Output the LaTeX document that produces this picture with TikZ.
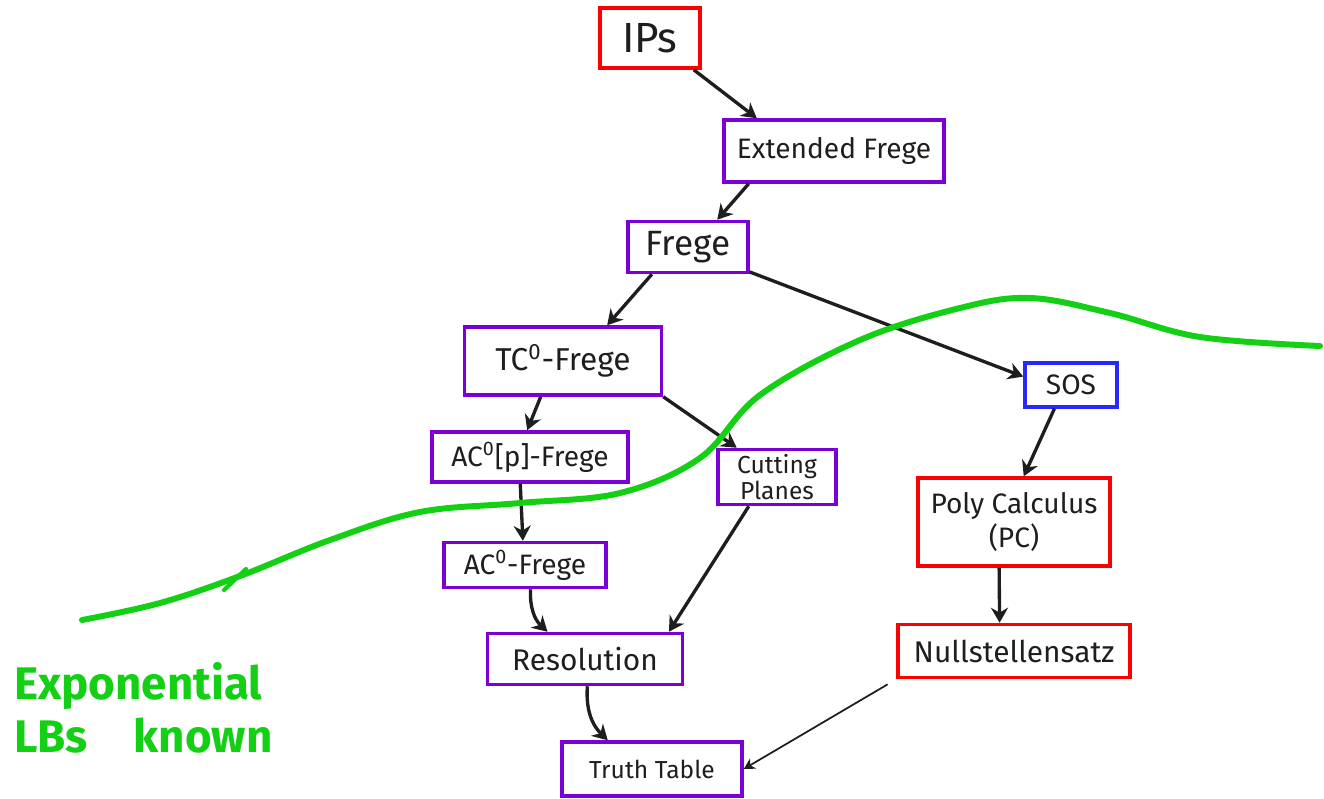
\documentclass[tikz,border=0pt]{standalone}
\usepackage{fontspec}
\setmainfont{Fira Sans}
\usetikzlibrary{arrows.meta, positioning}

\definecolor{boxred}{RGB}{250,0,0}
\definecolor{boxpurple}{RGB}{122,0,214}
\definecolor{boxblue}{RGB}{40,40,250}
\definecolor{lbgreen}{RGB}{20,208,20}
\definecolor{inkblack}{RGB}{30,30,30}

\begin{document}
\begin{tikzpicture}[x=0.02cm, y=-0.02cm,
  every node/.style={font=\fontsize{16}{19}\selectfont, text=inkblack},
  sysbox/.style={draw, line width=2pt, fill=white, inner sep=2pt, align=center},
  redbox/.style={sysbox, draw=boxred},
  purplebox/.style={sysbox, draw=boxpurple},
  bluebox/.style={sysbox, draw=boxblue},
  arrow/.style={-{Stealth[width=3.4mm,length=3mm]}, line width=1.9pt, draw=inkblack},
  thinarrow/.style={-{Stealth[width=2.4mm,length=2.2mm]}, line width=1pt, draw=inkblack},
  frontier/.style={draw=lbgreen, line width=3.4pt, line cap=round, line join=round}
]
\useasboundingbox (0,0) rectangle (1324,798);

% Proof systems, strongest at the top
\node[redbox, minimum width=2cm, minimum height=1.2cm, font=\fontsize{24}{28}\selectfont] (ips) at (650,38) {IPs};
\node[purplebox, minimum width=4.4cm, minimum height=1.24cm] (extfrege) at (834,151) {Extended Frege};
\node[purplebox, minimum width=2.4cm, minimum height=1.02cm, font=\fontsize{20}{24}\selectfont] (frege) at (688,247) {Frege};
\node[purplebox, minimum width=3.94cm, minimum height=1.36cm, font=\fontsize{18}{22}\selectfont] (tcfrege) at (563,361) {TC\textsuperscript{0}-Frege};
\node[purplebox, minimum width=3.92cm, minimum height=1cm] (acpfrege) at (530,457) {AC\textsuperscript{0}[p]-Frege};
\node[purplebox, minimum width=2.36cm, minimum height=1.1cm, font=\fontsize{14}{15}\selectfont] (cutplanes) at (777,477) {Cutting\\Planes};
\node[purplebox, minimum width=3.24cm, minimum height=0.9cm] (acfrege) at (525,565) {AC\textsuperscript{0}-Frege};
\node[purplebox, minimum width=3.9cm, minimum height=1.02cm, font=\fontsize{17}{20}\selectfont] (resolution) at (585,659) {Resolution};
\node[purplebox, minimum width=3.6cm, minimum height=1.08cm, font=\fontsize{14}{17}\selectfont] (truthtable) at (652,769) {Truth Table};

% Algebraic systems
\node[bluebox, minimum width=1.84cm, minimum height=0.88cm] (sos) at (1071,385) {SOS};
\node[redbox, minimum width=3.84cm, minimum height=1.76cm] (polycalc) at (1014,522) {Poly Calculus\\(PC)};
\node[redbox, minimum width=4.64cm, minimum height=1.06cm, font=\fontsize{17}{20}\selectfont] (nullst) at (1014,651) {Nullstellensatz};

% Simulations
\draw[arrow] (ips.-36) -- (extfrege.157);
\draw[arrow] (extfrege.-159) -- (frege.43);
\draw[arrow] (frege.-143) -- (tcfrege.39);
\draw[arrow] (frege.-22) -- (sos.170);
\draw[arrow] (tcfrege.-122) -- (acpfrege.96);
\draw[arrow] (tcfrege.south east) -- (cutplanes.144);
\draw[arrow] (acpfrege.-110) -- (acfrege.95);
\draw[arrow] (acfrege.-77) to[bend right=25] (resolution.144);
\draw[arrow] (cutplanes.-134) -- (resolution.18);
\draw[arrow] (resolution.-85) to[bend right=25] (truthtable.147);
\draw[arrow] (sos.-125) -- (polycalc.78);
\draw[arrow] (polycalc.-108) -- (nullst.117);
\draw[thinarrow, shorten <=0.2cm] (nullst.south west) -- (truthtable.east);

% Lower bound frontier
\draw[frontier] plot[smooth, tension=0.6] coordinates {(82,620) (160,603) (240,576)
  (330,540) (420,512) (520,503) (620,493) (700,458) (760,395) (860,340) (960,308)
  (1030,298) (1110,313) (1200,337) (1320,346)};
\draw[frontier, line width=2.4pt] (246,569) -- (224,590);
\node[anchor=west, align=left, text=lbgreen, font=\fontsize{26}{30}\selectfont\bfseries] (lbnote) at (8,708) {Exponential\\LBs\quad known};
\end{tikzpicture}
\end{document}
